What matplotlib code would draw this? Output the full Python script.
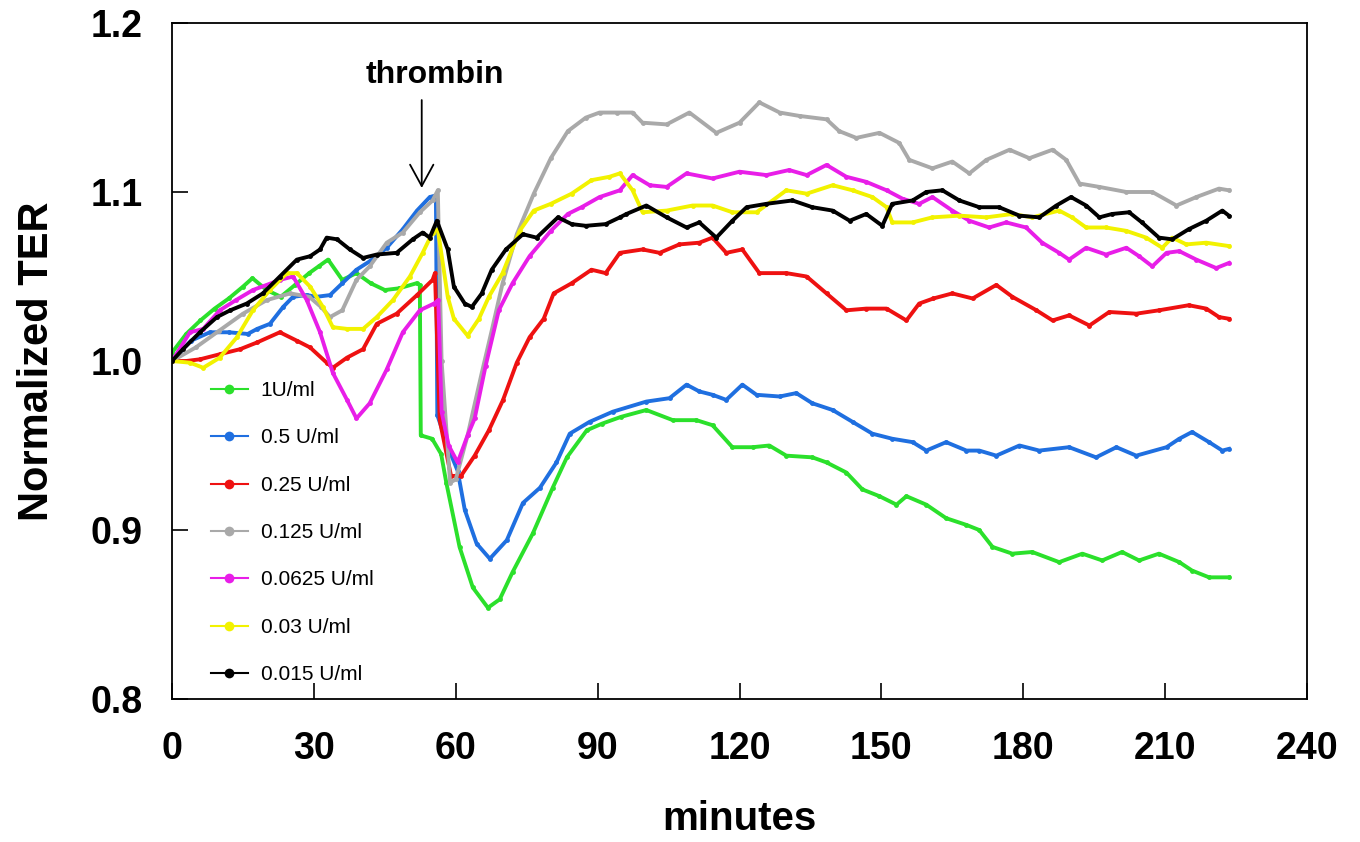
import matplotlib
matplotlib.use("Agg")
import matplotlib.pyplot as plt
from matplotlib.lines import Line2D

plt.rcParams['font.family'] = ['Liberation Sans', 'DejaVu Sans']

# (minutes, normalized TER)
green = [(0, 1.005), (3, 1.016), (6, 1.024), (9, 1.031), (12, 1.037), (15, 1.044), (17, 1.049),
         (20, 1.042), (23, 1.038), (26, 1.045), (29, 1.052), (31, 1.056), (33, 1.060), (36, 1.048),
         (39, 1.052), (42, 1.046), (45, 1.042), (48, 1.043), (51.7, 1.046), (52.4, 1.045),
         (52.6, 0.956), (55, 0.954), (56.9, 0.945), (58, 0.928), (60.8, 0.890), (63.6, 0.866),
         (66.8, 0.854), (69.3, 0.859), (72, 0.875), (76.3, 0.898), (80.5, 0.925), (83.5, 0.943),
         (87.7, 0.959), (91, 0.963), (95, 0.967), (100.3, 0.971), (105.9, 0.965), (110.9, 0.965),
         (114.3, 0.962), (118.5, 0.949), (122.8, 0.949), (126.3, 0.950), (129.9, 0.944),
         (135.4, 0.943), (138.4, 0.940), (142.6, 0.934), (146, 0.924), (149.6, 0.920),
         (153.2, 0.915), (155.3, 0.920), (159.5, 0.915), (163.7, 0.907), (168, 0.903),
         (170.7, 0.900), (173.5, 0.890), (177.7, 0.886), (181.9, 0.887), (187.6, 0.881),
         (192.5, 0.886), (196.7, 0.882), (200.9, 0.887), (204.5, 0.882), (208.7, 0.886),
         (213, 0.881), (215.7, 0.876), (219.3, 0.872), (223.5, 0.872)]

blue = [(0, 1.0), (4, 1.012), (8, 1.017), (12, 1.017), (16, 1.016), (18, 1.019), (20.7, 1.022),
        (23.5, 1.032), (25.6, 1.038), (28.5, 1.039), (30.6, 1.038), (33.4, 1.039), (36, 1.046),
        (39, 1.054), (41.8, 1.059), (45.4, 1.067), (48.8, 1.078), (51.8, 1.089), (54.5, 1.097),
        (55.8, 1.098), (56.1, 0.968), (58.5, 0.948), (60.4, 0.935), (61.9, 0.912), (64.4, 0.892),
        (67.2, 0.883), (70.8, 0.894), (74.2, 0.916), (77.8, 0.925), (81.3, 0.940), (84.1, 0.957),
        (88.3, 0.964), (93.2, 0.970), (100.3, 0.976), (105.2, 0.978), (108.8, 0.986),
        (111.5, 0.982), (114.3, 0.980), (117.2, 0.977), (120.6, 0.986), (123.6, 0.980),
        (128.5, 0.979), (132, 0.981), (135.4, 0.975), (139.7, 0.971), (143.9, 0.964),
        (148.1, 0.957), (152.3, 0.954), (156.6, 0.952), (159.5, 0.947), (163.7, 0.952),
        (168, 0.947), (170.7, 0.947), (174.3, 0.944), (179.2, 0.950), (183.4, 0.947),
        (189.7, 0.949), (195.4, 0.943), (199.7, 0.949), (203.9, 0.944), (210.3, 0.949),
        (213, 0.954), (215.7, 0.958), (219.3, 0.952), (222.1, 0.947), (223.5, 0.948)]

red = [(0, 1.0), (3, 1.0), (5.9, 1.001), (10.1, 1.004), (14.4, 1.007), (18, 1.011), (22.8, 1.017),
       (26.4, 1.012), (29.2, 1.008), (32.7, 0.999), (34, 0.996), (37, 1.002), (40.4, 1.007),
       (43.3, 1.022), (47.5, 1.028), (51.8, 1.039), (55.1, 1.048), (55.6, 1.052), (56.6, 0.965),
       (59, 0.932), (61.1, 0.932), (64, 0.944), (67, 0.959), (70, 0.977), (72.9, 0.999),
       (75.6, 1.014), (78.6, 1.025), (80.7, 1.040), (84.5, 1.046), (88.7, 1.054), (91.7, 1.052),
       (94.7, 1.064), (99.5, 1.066), (103.1, 1.064), (107.3, 1.069), (111.5, 1.070),
       (114.3, 1.073), (117.2, 1.064), (120.6, 1.066), (124.2, 1.052), (129.9, 1.052),
       (134.2, 1.050), (138.4, 1.040), (142.6, 1.030), (146.8, 1.031), (151.1, 1.031),
       (155.3, 1.024), (158, 1.034), (161, 1.037), (165, 1.040), (169.3, 1.037), (174.3, 1.045),
       (177.7, 1.038), (182.8, 1.030), (186.2, 1.024), (189.7, 1.027), (194, 1.021),
       (198.2, 1.029), (203.9, 1.028), (208.7, 1.030), (215, 1.033), (218.7, 1.031),
       (221.4, 1.026), (223.5, 1.025)]

gray = [(0, 1.0), (5, 1.008), (10, 1.018), (15, 1.028), (20, 1.036), (25, 1.040), (29, 1.038),
        (31.5, 1.032), (33.4, 1.026), (36, 1.030), (39, 1.048), (41.8, 1.056), (45.4, 1.070),
        (48.8, 1.076), (52.4, 1.088), (55.1, 1.095), (56.2, 1.101), (57, 1.0), (58.8, 0.928),
        (60, 0.930), (62.5, 0.956), (65.5, 0.993), (67.6, 1.018), (69.9, 1.046), (72.9, 1.075),
        (76.5, 1.099), (80.1, 1.120), (83.7, 1.136), (87.5, 1.144), (90.4, 1.147), (94, 1.147),
        (97.4, 1.147), (99.5, 1.141), (104.6, 1.140), (109.4, 1.147), (115.1, 1.135),
        (120, 1.141), (124.2, 1.153), (128.5, 1.147), (132.7, 1.145), (138.4, 1.143),
        (141.1, 1.136), (144.7, 1.132), (149.6, 1.135), (153.8, 1.129), (155.9, 1.119),
        (160.8, 1.114), (165, 1.118), (168.6, 1.111), (172.2, 1.119), (177.1, 1.125),
        (181.3, 1.120), (186.2, 1.125), (189.1, 1.119), (191.9, 1.105), (196.1, 1.103),
        (201.8, 1.100), (207.3, 1.100), (212.4, 1.092), (216.6, 1.097), (221.4, 1.102),
        (223.5, 1.101)]

magenta = [(0, 1.0), (3.8, 1.017), (6.6, 1.019), (10.1, 1.030), (13.5, 1.036), (17.1, 1.042),
           (20, 1.045), (22.8, 1.048), (25.6, 1.050), (28.5, 1.036), (31.3, 1.017), (34, 0.993),
           (37, 0.977), (39, 0.966), (41.8, 0.975), (45.4, 0.995), (48.8, 1.017), (52.4, 1.030),
           (55.4, 1.034), (56.3, 1.036), (57, 0.970), (58.5, 0.950), (60.4, 0.940), (62.5, 0.956),
           (64, 0.966), (66.3, 0.997), (69.1, 1.030), (72, 1.046), (75.6, 1.062), (80.1, 1.077),
           (83.7, 1.087), (86.6, 1.091), (90.4, 1.097), (94.7, 1.101), (97.4, 1.110),
           (101, 1.104), (104.6, 1.103), (108.8, 1.111), (114.3, 1.108), (120, 1.112),
           (125.7, 1.110), (130.5, 1.113), (134.2, 1.110), (138.4, 1.116), (142.6, 1.109),
           (146.8, 1.106), (151.1, 1.101), (154.5, 1.096), (158, 1.093), (160.8, 1.097),
           (165, 1.089), (168.6, 1.083), (172.8, 1.079), (176.4, 1.082), (180.6, 1.079),
           (184, 1.070), (187.6, 1.064), (189.7, 1.060), (193.3, 1.067), (197.5, 1.063),
           (201.8, 1.067), (204.5, 1.062), (207.3, 1.056), (210.3, 1.064), (213, 1.065),
           (216.6, 1.060), (220.8, 1.055), (223.5, 1.058)]

yellow = [(0, 1.0), (3.8, 0.999), (6.6, 0.996), (10.1, 1.002), (13.7, 1.014), (17.1, 1.030),
          (20.7, 1.042), (24.3, 1.052), (26.4, 1.052), (29.2, 1.044), (31.9, 1.032), (34, 1.020),
          (37, 1.019), (40.4, 1.019), (43.3, 1.026), (46.7, 1.036), (50.3, 1.050), (53, 1.064),
          (55.1, 1.076), (56.2, 1.078), (58.3, 1.038), (59.6, 1.025), (62.5, 1.015),
          (64.9, 1.025), (67, 1.038), (69.9, 1.052), (73.5, 1.077), (76.5, 1.089), (80.1, 1.093),
          (84.5, 1.099), (88.7, 1.107), (92.5, 1.109), (94.7, 1.111), (97.4, 1.101),
          (99.5, 1.088), (104.6, 1.089), (110.1, 1.092), (114.3, 1.092), (118.5, 1.088),
          (123.6, 1.088), (129.9, 1.101), (134.2, 1.099), (139.7, 1.104), (143.9, 1.101),
          (148.1, 1.097), (151.1, 1.091), (152.3, 1.082), (156.6, 1.082), (160.8, 1.085),
          (166.5, 1.086), (172.2, 1.085), (177.7, 1.087), (181.9, 1.085), (187.6, 1.089),
          (190.3, 1.085), (193.3, 1.079), (197.5, 1.079), (201.8, 1.077), (206, 1.073),
          (209.4, 1.067), (211.5, 1.073), (214.5, 1.069), (218.7, 1.070), (223.5, 1.068)]

black = [(0, 1.0), (2.3, 1.007), (5.9, 1.017), (9.5, 1.026), (12.3, 1.030), (15.8, 1.034),
         (19.2, 1.040), (22.8, 1.050), (26.4, 1.060), (29.2, 1.062), (31.3, 1.066), (32.7, 1.073),
         (34.9, 1.072), (37.6, 1.066), (40.4, 1.061), (43.3, 1.063), (47.5, 1.064), (50.9, 1.072),
         (53, 1.076), (54.5, 1.073), (56, 1.083), (58.3, 1.066), (59.6, 1.044), (61.9, 1.034),
         (63.4, 1.032), (65.5, 1.040), (67.6, 1.054), (70.6, 1.066), (74.2, 1.075), (77.1, 1.073),
         (81.6, 1.085), (84.5, 1.081), (87.5, 1.080), (91.7, 1.081), (94.7, 1.085), (96.1, 1.087),
         (100.3, 1.092), (104.6, 1.085), (108.8, 1.079), (111.5, 1.082), (115.1, 1.073),
         (118.5, 1.083), (121.5, 1.091), (125.7, 1.093), (131.2, 1.095), (135.4, 1.091),
         (139.7, 1.089), (143.3, 1.083), (146.8, 1.087), (150.2, 1.080), (152.3, 1.093),
         (156.6, 1.095), (159.5, 1.100), (162.9, 1.101), (166.5, 1.095), (170.7, 1.091),
         (174.9, 1.091), (179.2, 1.086), (183.4, 1.085), (187, 1.092), (190.1, 1.097),
         (193.3, 1.092), (196.1, 1.085), (198.8, 1.087), (202.4, 1.088), (205.1, 1.082),
         (208.7, 1.073), (211.5, 1.072), (215, 1.078), (218.7, 1.083), (222.1, 1.089),
         (223.5, 1.086)]

labels = ['1U/ml', '0.5 U/ml', '0.25 U/ml', '0.125 U/ml', '0.0625 U/ml', '0.03 U/ml', '0.015 U/ml']
colors = ['#2be02b', '#1f6fe0', '#ee1111', '#a9a9a9', '#e81ee8', '#f2f200', '#000000']
all_series = [green, blue, red, gray, magenta, yellow, black]

fig = plt.figure(figsize=(13.6, 8.42), dpi=100)
ax = fig.add_axes([0.1265, 0.1698, 0.8345, 0.8029])

for pts, col in zip(all_series, colors):
    t = [p[0] for p in pts]
    v = [p[1] for p in pts]
    ax.plot(t, v, color=col, lw=2.8, marker='o', ms=3.5, mew=0)

ax.set_xlim(0, 240)
ax.set_ylim(0.8, 1.2)
ax.set_xticks(range(0, 241, 30))
ax.set_yticks([0.8, 0.9, 1.0, 1.1, 1.2])
ax.set_yticklabels(['0.8', '0.9', '1.0', '1.1', '1.2'])
ax.tick_params(axis='both', direction='in', length=11.5, width=1.2, labelsize=27)
ax.tick_params(axis='x', pad=23)
ax.tick_params(axis='y', pad=21)
for lab in ax.get_xticklabels() + ax.get_yticklabels():
    lab.set_fontweight('bold')
for sp in ax.spines.values():
    sp.set_linewidth(1.3)

ax.set_xlabel('minutes', fontsize=29, fontweight='bold', labelpad=24)
ax.set_ylabel('Normalized TER', fontsize=30, fontweight='bold', labelpad=24)

# thrombin addition
ax.annotate('', xy=(52.8, 1.1024), xytext=(52.8, 1.1544),
            arrowprops=dict(arrowstyle='->,head_length=0.55,head_width=0.3',
                            mutation_scale=28, lw=1.3, color='black',
                            shrinkA=0, shrinkB=0))
ax.text(55.6, 1.169, 'thrombin', fontsize=23, fontweight='bold', ha='center', va='center')

handles = [Line2D([], [], color=c, lw=1.5, marker='o', ms=7, mew=0) for c in colors]
ax.legend(handles, labels, loc='lower left', bbox_to_anchor=(0.034, 0.022), frameon=False,
          fontsize=15, handlelength=1.8, handletextpad=0.6, labelspacing=1.36,
          borderpad=0, borderaxespad=0)

fig.savefig('out.png', dpi=100)
